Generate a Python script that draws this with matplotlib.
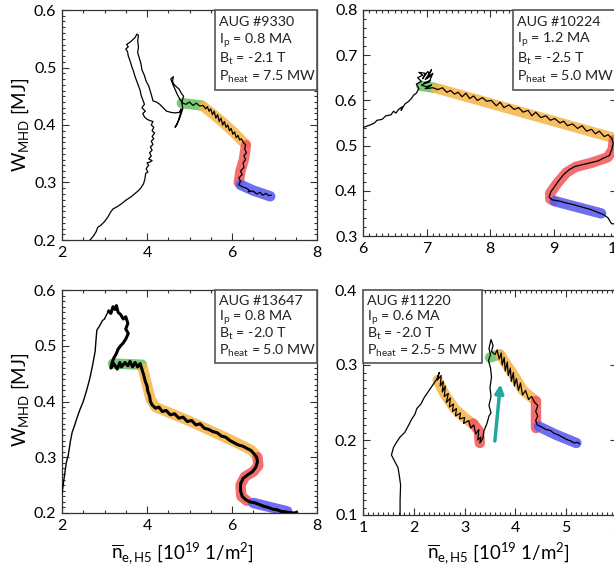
import matplotlib
matplotlib.use("Agg")
import matplotlib.pyplot as plt
from matplotlib.patches import Rectangle
from matplotlib.ticker import MultipleLocator

plt.rcParams['font.family'] = ['Lato', 'DejaVu Sans']
plt.rcParams['mathtext.fontset'] = 'custom'
plt.rcParams['mathtext.rm'] = 'Lato'
plt.rcParams['mathtext.it'] = 'Lato:italic'
plt.rcParams['mathtext.default'] = 'regular'

GREEN = '#66c266'
ORANGE = '#f6b64c'
RED = '#f25a5a'
BLUE = '#5a5af0'

# ---- AUG #9330 ----
tl_x = [2.66, 2.74, 2.80, 2.84, 2.92, 3.00, 3.08, 3.14, 3.20, 3.30, 3.40, 3.48, 3.56, 3.64, 3.72, 3.80,
        3.86, 3.92, 3.95, 3.97, 4.02, 3.98, 4.04, 4.00, 4.08, 4.12, 4.04, 4.10, 4.06, 4.12, 4.08, 4.14,
        4.10, 4.16, 4.12, 4.18, 4.12, 4.16, 4.10, 4.14, 4.06, 4.00, 3.94, 3.90, 3.96, 3.88, 3.94, 3.90,
        3.86, 3.84, 3.80, 3.76, 3.72, 3.68, 3.64, 3.60, 3.56, 3.54, 3.50, 3.56, 3.52, 3.60, 3.66, 3.72,
        3.76, 3.80, 3.78, 3.80, 3.78, 3.82, 3.86, 3.88, 3.94, 3.98, 4.04, 4.08, 4.12, 4.14, 4.22, 4.30,
        4.38, 4.46, 4.56, 4.66, 4.76, 4.80, 4.78, 4.74, 4.70, 4.66, 4.72, 4.78, 4.84, 4.82, 4.86, 4.80,
        4.76, 4.70, 4.64, 4.60, 4.62, 4.56, 4.60, 4.66, 4.72, 4.78, 4.84,
        4.92, 5.00, 5.08, 5.16, 5.24, 5.32, 5.38, 5.42, 5.46, 5.50, 5.54, 5.58, 5.62, 5.66, 5.70, 5.74,
        5.78, 5.82, 5.86, 5.90, 5.94, 5.98, 6.02, 6.06, 6.10, 6.14, 6.18, 6.22, 6.28, 6.32,
        6.30, 6.34, 6.28, 6.32, 6.26, 6.28, 6.20, 6.24, 6.16, 6.20, 6.16,
        6.26, 6.34, 6.42, 6.38, 6.50, 6.58, 6.66, 6.72, 6.80, 6.86, 6.92]
tl_y = [0.200, 0.207, 0.214, 0.222, 0.226, 0.232, 0.240, 0.248, 0.254, 0.258, 0.263, 0.268, 0.272, 0.276,
        0.281, 0.286, 0.291, 0.298, 0.306, 0.316, 0.318, 0.324, 0.330, 0.334, 0.336, 0.338, 0.341, 0.346,
        0.352, 0.356, 0.362, 0.366, 0.372, 0.376, 0.380, 0.386, 0.390, 0.396, 0.400, 0.406, 0.408, 0.410,
        0.414, 0.420, 0.424, 0.430, 0.436, 0.444, 0.452, 0.460, 0.468, 0.476, 0.484, 0.494, 0.502, 0.512,
        0.520, 0.528, 0.532, 0.536, 0.540, 0.544, 0.548, 0.552, 0.558, 0.556, 0.546, 0.536, 0.526, 0.516,
        0.506, 0.496, 0.486, 0.476, 0.468, 0.458, 0.448, 0.442, 0.440, 0.436, 0.430, 0.424, 0.422, 0.421,
        0.422, 0.428, 0.418, 0.408, 0.400, 0.396, 0.404, 0.414, 0.428, 0.440, 0.450, 0.456, 0.462, 0.466,
        0.470, 0.476, 0.484, 0.480, 0.472, 0.462, 0.452, 0.444, 0.438,
        0.436, 0.440, 0.434, 0.438, 0.433, 0.434, 0.428, 0.432, 0.424, 0.428, 0.418, 0.424, 0.412, 0.418,
        0.406, 0.412, 0.400, 0.406, 0.396, 0.400, 0.390, 0.394, 0.384, 0.388, 0.378, 0.382, 0.374, 0.376,
        0.368, 0.366,
        0.358, 0.352, 0.346, 0.340, 0.334, 0.326, 0.320, 0.314, 0.308, 0.302, 0.296,
        0.292, 0.290, 0.286, 0.284, 0.285, 0.280, 0.283, 0.278, 0.281, 0.277, 0.278]
tl_bands = [
    (GREEN, [4.82, 5.28], [0.438, 0.434]),
    (ORANGE, [5.33, 5.70, 6.00, 6.30], [0.432, 0.410, 0.390, 0.368]),
    (RED, [6.33, 6.28, 6.20, 6.16], [0.365, 0.340, 0.320, 0.300]),
    (BLUE, [6.20, 6.50, 6.90], [0.296, 0.286, 0.276]),
]

# ---- AUG #10224 ----
tr_x = [6.00, 6.10, 6.18, 6.22, 6.30, 6.36, 6.44, 6.48, 6.52, 6.56, 6.62, 6.60, 6.66, 6.72, 6.76, 6.80,
        6.84, 6.88,
        6.84, 6.92, 6.86, 6.94, 6.88, 6.98, 6.94, 7.02, 7.06, 6.98, 7.08, 7.02, 7.10, 7.04, 6.96, 7.06,
        6.92, 7.00, 7.08, 6.98, 7.10,
        7.18, 7.25, 7.32, 7.38, 7.44, 7.50, 7.56, 7.62, 7.68, 7.74, 7.80, 7.88, 7.95, 8.02, 8.10, 8.16,
        8.22, 8.30, 8.38, 8.45, 8.52, 8.60, 8.66, 8.72, 8.80, 8.88, 8.95, 9.02, 9.10, 9.16, 9.22, 9.30,
        9.38, 9.45, 9.52, 9.60, 9.66, 9.72, 9.80, 9.86, 9.92,
        9.94, 9.92, 9.88, 9.78, 9.70, 9.58, 9.46, 9.34, 9.25, 9.16, 9.08, 9.02, 8.96, 8.93, 8.98,
        9.10, 9.20, 9.30, 9.40, 9.50, 9.60, 9.70, 9.78, 9.86, 9.90, 9.92, 10.0]
tr_y = [0.540, 0.545, 0.550, 0.556, 0.558, 0.566, 0.568, 0.576, 0.572, 0.580, 0.586, 0.578, 0.592, 0.598,
        0.604, 0.612, 0.616, 0.626,
        0.636, 0.642, 0.650, 0.656, 0.662, 0.660, 0.648, 0.664, 0.654, 0.646, 0.668, 0.650, 0.660, 0.640,
        0.638, 0.644, 0.634, 0.630, 0.634, 0.626, 0.628,
        0.624, 0.628, 0.618, 0.622, 0.614, 0.618, 0.608, 0.616, 0.604, 0.610, 0.600, 0.606, 0.598, 0.600,
        0.588, 0.596, 0.584, 0.590, 0.580, 0.584, 0.574, 0.578, 0.566, 0.574, 0.562, 0.566, 0.556, 0.560,
        0.550, 0.554, 0.544, 0.548, 0.538, 0.544, 0.532, 0.536, 0.526, 0.532, 0.520, 0.524, 0.516,
        0.505, 0.492, 0.478, 0.472, 0.466, 0.462, 0.458, 0.454, 0.447, 0.436, 0.422, 0.410, 0.398, 0.386,
        0.380, 0.377, 0.373, 0.370, 0.366, 0.362, 0.358, 0.352, 0.348, 0.340, 0.330, 0.327, 0.327]
tr_bands = [
    (GREEN, [6.92, 7.12], [0.632, 0.628]),
    (ORANGE, [7.15, 9.92], [0.627, 0.518]),
    (RED, [9.95, 9.93, 9.85, 9.60, 9.35, 9.20, 9.05, 8.95, 8.95, 9.00],
     [0.512, 0.490, 0.474, 0.462, 0.453, 0.440, 0.415, 0.395, 0.382, 0.378]),
    (BLUE, [9.02, 9.75], [0.377, 0.350]),
]

# ---- AUG #13647 ----
bl_rise_x = [2.00, 2.03, 2.06, 2.10, 2.15, 2.20, 2.24, 2.30, 2.35, 2.42, 2.50, 2.58, 2.65, 2.72, 2.78,
             2.80, 2.82, 2.88, 2.95, 3.00, 3.05, 3.10]
bl_rise_y = [0.235, 0.252, 0.268, 0.290, 0.305, 0.330, 0.345, 0.358, 0.370, 0.385, 0.400, 0.420, 0.440,
             0.465, 0.490, 0.510, 0.528, 0.535, 0.545, 0.548, 0.556, 0.562]
bl_x = [3.10, 3.15, 3.20, 3.25, 3.28, 3.32, 3.38, 3.44, 3.50, 3.55, 3.50, 3.56, 3.50, 3.44, 3.38, 3.32,
        3.28, 3.22, 3.18, 3.15, 3.22, 3.30, 3.36, 3.40, 3.48, 3.55, 3.60, 3.66, 3.72, 3.78, 3.84, 3.88,
        3.92, 3.96, 4.00, 4.02, 4.06, 4.08, 4.12, 4.20, 4.28, 4.36, 4.45, 4.55, 4.65, 4.75, 4.85, 4.95,
        5.05, 5.15, 5.25, 5.35, 5.45, 5.55, 5.65, 5.75, 5.85, 5.95, 6.05, 6.15, 6.25, 6.35, 6.45, 6.52,
        6.58, 6.60, 6.56, 6.48, 6.36, 6.26, 6.20, 6.20, 6.24, 6.32, 6.42, 6.55, 6.65, 6.75, 6.85, 6.95,
        7.05, 7.15, 7.25, 7.35, 7.45, 7.52]
bl_y = [0.562, 0.558, 0.570, 0.565, 0.572, 0.560, 0.556, 0.548, 0.552, 0.540, 0.530, 0.522, 0.512, 0.505,
        0.500, 0.494, 0.486, 0.478, 0.470, 0.460, 0.468, 0.458, 0.470, 0.462, 0.470, 0.464, 0.472, 0.462,
        0.470, 0.462, 0.468, 0.458, 0.448, 0.436, 0.428, 0.418, 0.410, 0.400, 0.394, 0.388, 0.390, 0.382,
        0.384, 0.376, 0.378, 0.370, 0.372, 0.364, 0.366, 0.358, 0.360, 0.352, 0.350, 0.346, 0.344, 0.338,
        0.336, 0.330, 0.326, 0.322, 0.320, 0.316, 0.312, 0.306, 0.300, 0.292, 0.282, 0.274, 0.268, 0.262,
        0.252, 0.240, 0.230, 0.224, 0.220, 0.218, 0.215, 0.212, 0.210, 0.207, 0.206, 0.203, 0.202, 0.201,
        0.200, 0.201]
bl_bands = [
    (GREEN, [3.20, 3.88], [0.468, 0.466]),
    (ORANGE, [3.90, 4.00, 4.08, 4.20, 5.00, 6.00, 6.45, 6.55],
     [0.460, 0.430, 0.405, 0.390, 0.365, 0.330, 0.313, 0.305]),
    (RED, [6.60, 6.62, 6.50, 6.30, 6.20, 6.22, 6.35], [0.300, 0.285, 0.274, 0.265, 0.250, 0.230, 0.222]),
    (BLUE, [6.50, 7.30], [0.218, 0.203]),
]

# ---- AUG #11220 ----
br_x = [1.73, 1.73, 1.74, 1.72, 1.69, 1.62, 1.56, 1.60, 1.66, 1.73, 1.82, 1.90, 1.96, 2.02, 2.06, 2.14,
        2.20, 2.26, 2.32, 2.40, 2.46,
        2.50, 2.46, 2.54, 2.52, 2.58, 2.56, 2.62, 2.60, 2.68, 2.64, 2.72, 2.70, 2.78, 2.76, 2.84, 2.82,
        2.92, 2.90, 3.00, 2.98, 3.08, 3.12,
        3.18, 3.22, 3.28, 3.26, 3.32, 3.30, 3.36,
        3.38, 3.44, 3.48, 3.52, 3.48, 3.52, 3.50, 3.53, 3.51, 3.47, 3.51, 3.48, 3.52, 3.56, 3.53, 3.60,
        3.64, 3.68, 3.72, 3.74, 3.78, 3.80, 3.84, 3.86, 3.90, 3.92, 3.96, 3.98, 4.02, 4.06, 4.10, 4.14,
        4.20, 4.26, 4.32, 4.38,
        4.44, 4.40, 4.44, 4.40, 4.43,
        4.50, 4.60, 4.68, 4.76, 4.84, 4.92, 5.00, 5.08, 5.16, 5.22, 5.26]
br_y = [0.100, 0.120, 0.140, 0.150, 0.163, 0.172, 0.180, 0.190, 0.197, 0.204, 0.210, 0.220, 0.228, 0.234,
        0.242, 0.248, 0.256, 0.262, 0.268, 0.276, 0.282,
        0.290, 0.280, 0.286, 0.272, 0.278, 0.264, 0.272, 0.258, 0.262, 0.250, 0.256, 0.244, 0.248, 0.238,
        0.242, 0.232, 0.236, 0.228, 0.230, 0.222, 0.226, 0.216,
        0.220, 0.208, 0.214, 0.200, 0.204, 0.196, 0.202,
        0.212, 0.222, 0.232, 0.236, 0.246, 0.258, 0.270, 0.284, 0.296, 0.306, 0.314, 0.322, 0.334, 0.326,
        0.318, 0.314,
        0.320, 0.308, 0.316, 0.300, 0.310, 0.292, 0.304, 0.286, 0.296, 0.278, 0.290, 0.272, 0.282, 0.266,
        0.276, 0.260, 0.266, 0.254, 0.258, 0.250,
        0.246, 0.238, 0.232, 0.226, 0.220,
        0.218, 0.214, 0.213, 0.209, 0.207, 0.204, 0.201, 0.199, 0.196, 0.197, 0.195]
br_bands = [
    (ORANGE, [2.47, 2.60, 2.80, 3.00, 3.15], [0.280, 0.262, 0.242, 0.230, 0.222]),
    (RED, [3.17, 3.28, 3.30], [0.222, 0.212, 0.196]),
    (GREEN, [3.50, 3.68], [0.310, 0.314]),
    (ORANGE, [3.70, 3.85, 4.00, 4.15, 4.35], [0.314, 0.298, 0.283, 0.266, 0.255]),
    (RED, [4.41, 4.41], [0.252, 0.216]),
    (BLUE, [4.46, 4.80, 5.20], [0.218, 0.207, 0.196]),
]
arrow_start = (3.59, 0.195)
arrow_end = (3.71, 0.278)

info = {
    'tl': ['AUG #9330', 'I$_p$ = 0.8 MA', 'B$_t$ = -2.1 T', 'P$_{heat}$ = 7.5 MW'],
    'tr': ['AUG #10224', 'I$_p$ = 1.2 MA', 'B$_t$ = -2.5 T', 'P$_{heat}$ = 5.0 MW'],
    'bl': ['AUG #13647', 'I$_p$ = 0.8 MA', 'B$_t$ = -2.0 T', 'P$_{heat}$ = 5.0 MW'],
    'br': ['AUG #11220', 'I$_p$ = 0.6 MA', 'B$_t$ = -2.0 T', 'P$_{heat}$ = 2.5-5 MW'],
}

W, H = 614, 571
fig = plt.figure(figsize=(W / 100, H / 100), dpi=100)


def make_axes(px_left, px_top, px_right, px_bottom):
    return fig.add_axes([px_left / W, 1 - px_bottom / H, (px_right - px_left) / W,
                         (px_bottom - px_top) / H])


def style(ax, xlim, ylim, xmaj, xmin, ymaj, ymin):
    ax.set_xlim(*xlim)
    ax.set_ylim(*ylim)
    ax.xaxis.set_major_locator(MultipleLocator(xmaj))
    ax.xaxis.set_minor_locator(MultipleLocator(xmin))
    ax.yaxis.set_major_locator(MultipleLocator(ymaj))
    ax.yaxis.set_minor_locator(MultipleLocator(ymin))
    ax.tick_params(which='both', direction='in', top=True, right=True, labelsize=11.5,
                   color='#333333', width=0.8)
    ax.tick_params(which='major', length=5, pad=4)
    ax.tick_params(which='minor', length=2.5)
    for sp in ax.spines.values():
        sp.set_linewidth(0.9)
        sp.set_color('#333333')


def draw_bands(ax, bands):
    for color, bx, by in bands:
        ax.plot(bx, by, color=color, lw=7.5, alpha=0.88, solid_capstyle='round',
                solid_joinstyle='round', zorder=2)


def info_box(ax, lines, x0, y0, x1, y1):
    ax.add_patch(Rectangle((x0, y0), x1 - x0, y1 - y0, transform=ax.transAxes, fill=True,
                           facecolor='white', edgecolor='#555555', lw=1.2, zorder=5, clip_on=False))
    step = (y1 - y0) / 4.3
    for i, s in enumerate(lines):
        ax.text(x0 + 0.016, y1 - step * (i + 0.62), s, transform=ax.transAxes, fontsize=10.3,
                va='center', ha='left', color='#222222', zorder=6)


ax_tl = make_axes(62, 10, 317, 240)
ax_tr = make_axes(363, 10, 617, 236)
ax_bl = make_axes(62, 290, 317, 513)
ax_br = make_axes(363, 290, 617, 515)

style(ax_tl, (2, 8), (0.2, 0.6), 2, 0.5, 0.1, 0.01)
style(ax_tr, (6, 10), (0.3, 0.8), 1, 0.1, 0.1, 0.02)
style(ax_bl, (2, 8), (0.2, 0.6), 2, 0.5, 0.1, 0.01)
style(ax_br, (1, 6), (0.1, 0.4), 1, 0.1, 0.1, 0.01)

draw_bands(ax_tl, tl_bands)
ax_tl.plot(tl_x, tl_y, color='black', lw=0.9, zorder=3)
draw_bands(ax_tr, tr_bands)
ax_tr.plot(tr_x, tr_y, color='black', lw=0.9, zorder=3)
draw_bands(ax_bl, bl_bands)
ax_bl.plot(bl_rise_x, bl_rise_y, color='black', lw=1.0, zorder=3)
ax_bl.plot(bl_x, bl_y, color='black', lw=2.2, zorder=3)
draw_bands(ax_br, br_bands)
ax_br.plot(br_x, br_y, color='black', lw=0.9, zorder=3)
ax_br.annotate('', xy=arrow_end, xytext=arrow_start,
               arrowprops=dict(arrowstyle='-|>,head_length=0.5,head_width=0.25',
                               color='#1fa89b', lw=2.5), zorder=4)

info_box(ax_tl, info['tl'], 0.60, 0.652, 1.0, 1.0)
info_box(ax_tr, info['tr'], 0.59, 0.646, 1.1, 1.0)
info_box(ax_bl, info['bl'], 0.60, 0.673, 1.0, 1.0)
info_box(ax_br, info['br'], 0.0, 0.676, 0.47, 1.0)

ylab = 'W$_{MHD}$ [MJ]'
xlab = r'$\overline{n}_{e,H5}$ [10$^{19}$ 1/m$^2$]'
fig.text(20 / W, 1 - 125 / H, ylab, rotation=90, ha='center', va='center', fontsize=13.5)
fig.text(20 / W, 1 - 400 / H, ylab, rotation=90, ha='center', va='center', fontsize=13.5)
fig.text(182 / W, 1 - 553 / H, xlab, ha='center', va='center', fontsize=13.5)
fig.text(498 / W, 1 - 553 / H, xlab, ha='center', va='center', fontsize=13.5)

fig.savefig('out.png', dpi=100)
